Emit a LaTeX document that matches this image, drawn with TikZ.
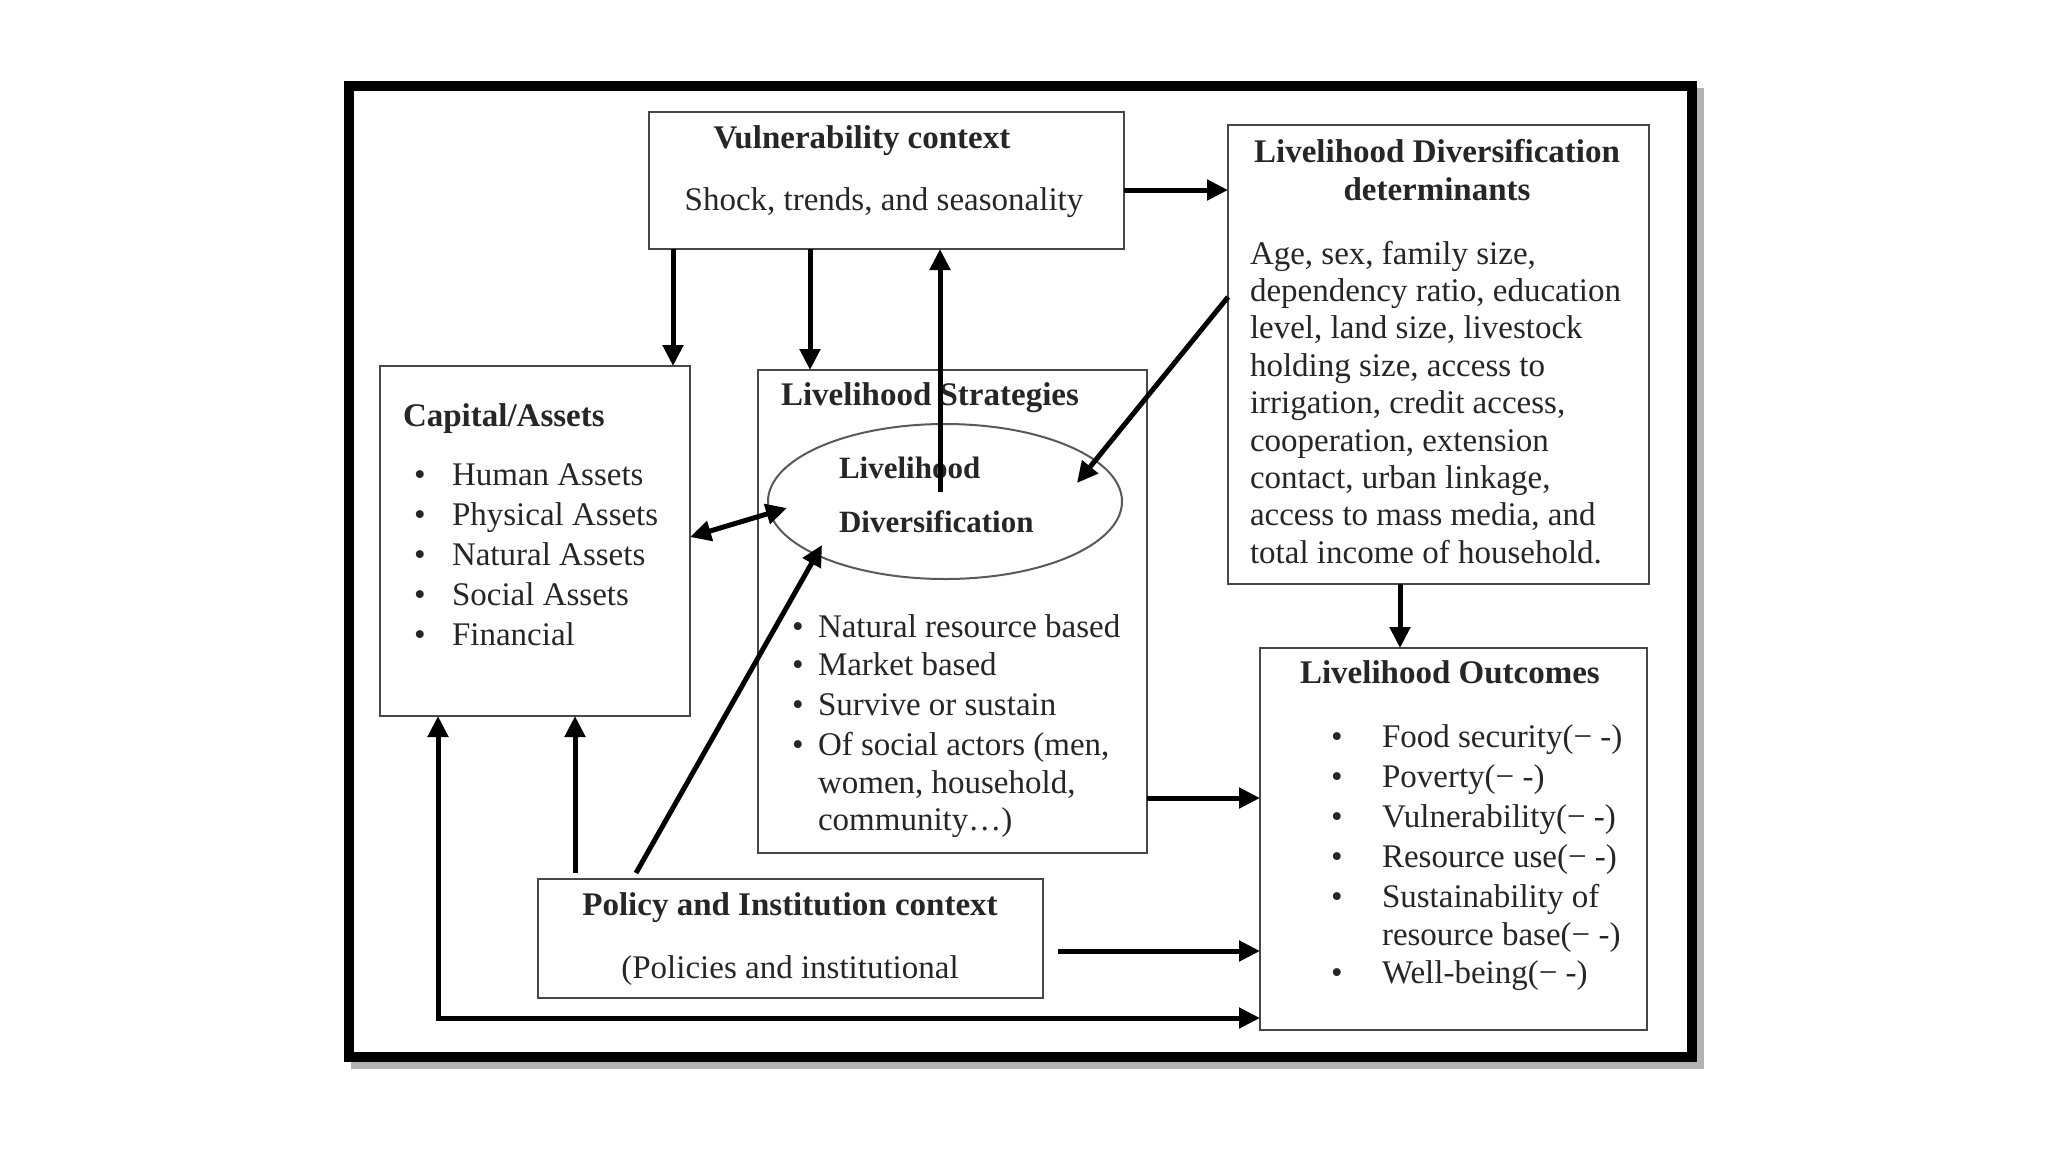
\documentclass[tikz,border=0pt]{standalone}
\usepackage{fontspec}
\setmainfont{Liberation Serif}
\usetikzlibrary{arrows.meta,shapes.geometric,calc}
\begin{document}
\begin{tikzpicture}[x=1pt,y=-1pt,
  box/.style={draw=black!72, line width=2.5pt, rectangle, inner sep=0pt, outer sep=0pt},
  oval/.style={draw=black!65, line width=2pt, ellipse, inner sep=0pt, outer sep=0pt},
  txt/.style={font=\fontsize{33}{39}\selectfont, text=black!85, inner sep=0pt, outer sep=0pt},
  ttl/.style={font=\fontsize{33}{39}\selectfont\bfseries, text=black!85, inner sep=0pt, outer sep=0pt},
  ovt/.style={font=\fontsize{31}{37}\selectfont\bfseries, text=black!85, inner sep=0pt, outer sep=0pt},
  arr/.style={line width=5pt, -{Triangle[length=21pt,width=20pt]}},
  arrb/.style={line width=5pt, {Triangle[length=21pt,width=20pt]}-{Triangle[length=21pt,width=20pt]}}
]
\useasboundingbox (0,0) rectangle (2048,1152);
\fill[white] (0,0) rectangle (2048,1152);

% outer frame with shadow
\draw[line width=10pt, draw=black!30] (356,93) rectangle (1699,1064);
\draw[line width=10pt, fill=white] (349,86) rectangle (1692,1057);

% boxes
\node[box, minimum width=475pt, minimum height=137pt] (vul) at (886.5,180.5) {};
\node[box, minimum width=421pt, minimum height=459pt] (ldd) at (1438.5,354.5) {};
\node[box, minimum width=310pt, minimum height=350pt] (cap) at (535,541) {};
\node[box, minimum width=389pt, minimum height=483pt] (strat) at (952.5,611.5) {};
\node[box, minimum width=387pt, minimum height=382pt] (out) at (1453.5,839) {};
\node[box, minimum width=505pt, minimum height=119pt] (pol) at (790.5,938.5) {};
\node[oval, minimum width=354pt, minimum height=155pt] (div) at (945,501.5) {};

% vulnerability text
\node[ttl, anchor=base] (vt) at (862,148) {Vulnerability context};
\node[txt, anchor=base] (vb) at (884,210) {Shock, trends, and seasonality};

% determinants text
\node[ttl, anchor=base] (lt1) at (1437,162) {Livelihood Diversification};
\node[ttl, anchor=base] (lt2) at (1437,200) {determinants};
\foreach \t [count=\i] in {{Age, sex, family size,},{dependency ratio, education},{level, land size, livestock},{holding size, access to},{irrigation, credit access,},{cooperation, extension},{contact, urban linkage,},{access to mass media, and},{total income of household.}}{
  \node[txt, anchor=base west] (ld\i) at (1250,{264+37.4*(\i-1)}) {\t};
}

% capital text
\node[ttl, anchor=base west] (ct) at (403,426) {Capital/Assets};
\foreach \t [count=\i] in {Human Assets,Physical Assets,Natural Assets,Social Assets,Financial}{
  \node[txt, anchor=base] (cb\i) at (420,{485+40*(\i-1)}) {•};
  \node[txt, anchor=base west] (ci\i) at (452,{485+40*(\i-1)}) {\t};
}

% strategies text
\node[ttl, anchor=base west] (st) at (781,405) {Livelihood Strategies};
\node[ovt, anchor=base west] (dv1) at (839,478) {Livelihood};
\node[ovt, anchor=base west] (dv2) at (839,532) {Diversification};
\foreach \t/\y [count=\i] in {Natural resource based/637,Market based/675,Survive or sustain/715,Of social actors (men{,}/755}{
  \node[txt, anchor=base] (sb\i) at (798,\y) {•};
}
\node[txt, anchor=base west] (si1) at (818,637) {Natural resource based};
\node[txt, anchor=base west] (si2) at (818,675) {Market based};
\node[txt, anchor=base west] (si3) at (818,715) {Survive or sustain};
\node[txt, anchor=base west] (si4) at (818,755) {Of social actors (men,};
\node[txt, anchor=base west] (si5) at (818,793) {women, household,};
\node[txt, anchor=base west] (si6) at (818,830) {community…)};

% outcomes text
\node[ttl, anchor=base west] (ot) at (1300,683) {Livelihood Outcomes};
\foreach \y [count=\i] in {747,787,827,867,907,983}{
  \node[txt, anchor=base] (ob\i) at (1337,\y) {•};
}
\node[txt, anchor=base west] (oi1) at (1382,747) {Food security(− -)};
\node[txt, anchor=base west] (oi2) at (1382,787) {Poverty(− -)};
\node[txt, anchor=base west] (oi3) at (1382,827) {Vulnerability(− -)};
\node[txt, anchor=base west] (oi4) at (1382,867) {Resource use(− -)};
\node[txt, anchor=base west] (oi5) at (1382,907) {Sustainability of};
\node[txt, anchor=base west] (oi6) at (1382,945) {resource base(− -)};
\node[txt, anchor=base west] (oi7) at (1382,983) {Well-being(− -)};

% policy text
\node[ttl, anchor=base] (pt) at (790,915) {Policy and Institution context};
\node[txt, anchor=base] (pb) at (790,978) {(Policies and institutional};

% helper coordinates
\coordinate (x673) at (673,0);
\coordinate (x810) at (810,0);
\coordinate (x940) at (940,0);
\coordinate (x575) at (575,0);
\coordinate (x1400) at (1400,0);
\coordinate (x438) at (438,0);
\coordinate (y190) at (0,190);
\coordinate (y297) at (0,297);
\coordinate (y537) at (0,537);
\coordinate (y798) at (0,798);
\coordinate (y951) at (0,951);
\coordinate (y1018) at (0,1018);
\coordinate (dup) at (940,492);
\coordinate (ddet) at (1077,483);
\coordinate (dcap) at (787,508);
\coordinate (dpol) at (822,545);
\coordinate (pdiag) at (636,873);
\coordinate (pcap) at (575,873);
\coordinate (pout) at (1058,951);

% connectors
\draw[arr] (vul.south -| x673) -- (cap.north -| x673);
\draw[arr] (vul.south -| x810) -- (strat.north -| x810);
\draw[arr] (dup) -- (vul.south -| x940);
\draw[arr] (vul.east |- y190) -- (ldd.west |- y190);
\draw[arr] (ldd.west |- y297) -- (ddet);
\draw[arrb] (cap.east |- y537) -- (dcap);
\draw[arr] (pdiag) -- (dpol);
\draw[arr] (pcap) -- (cap.south -| x575);
\draw[arr] (strat.east |- y798) -- (out.west |- y798);
\draw[arr] (ldd.south -| x1400) -- (out.north -| x1400);
\draw[arr] (pout) -- (out.west |- y951);
\draw[arrb] (cap.south -| x438) |- (out.west |- y1018);
\end{tikzpicture}
\end{document}
